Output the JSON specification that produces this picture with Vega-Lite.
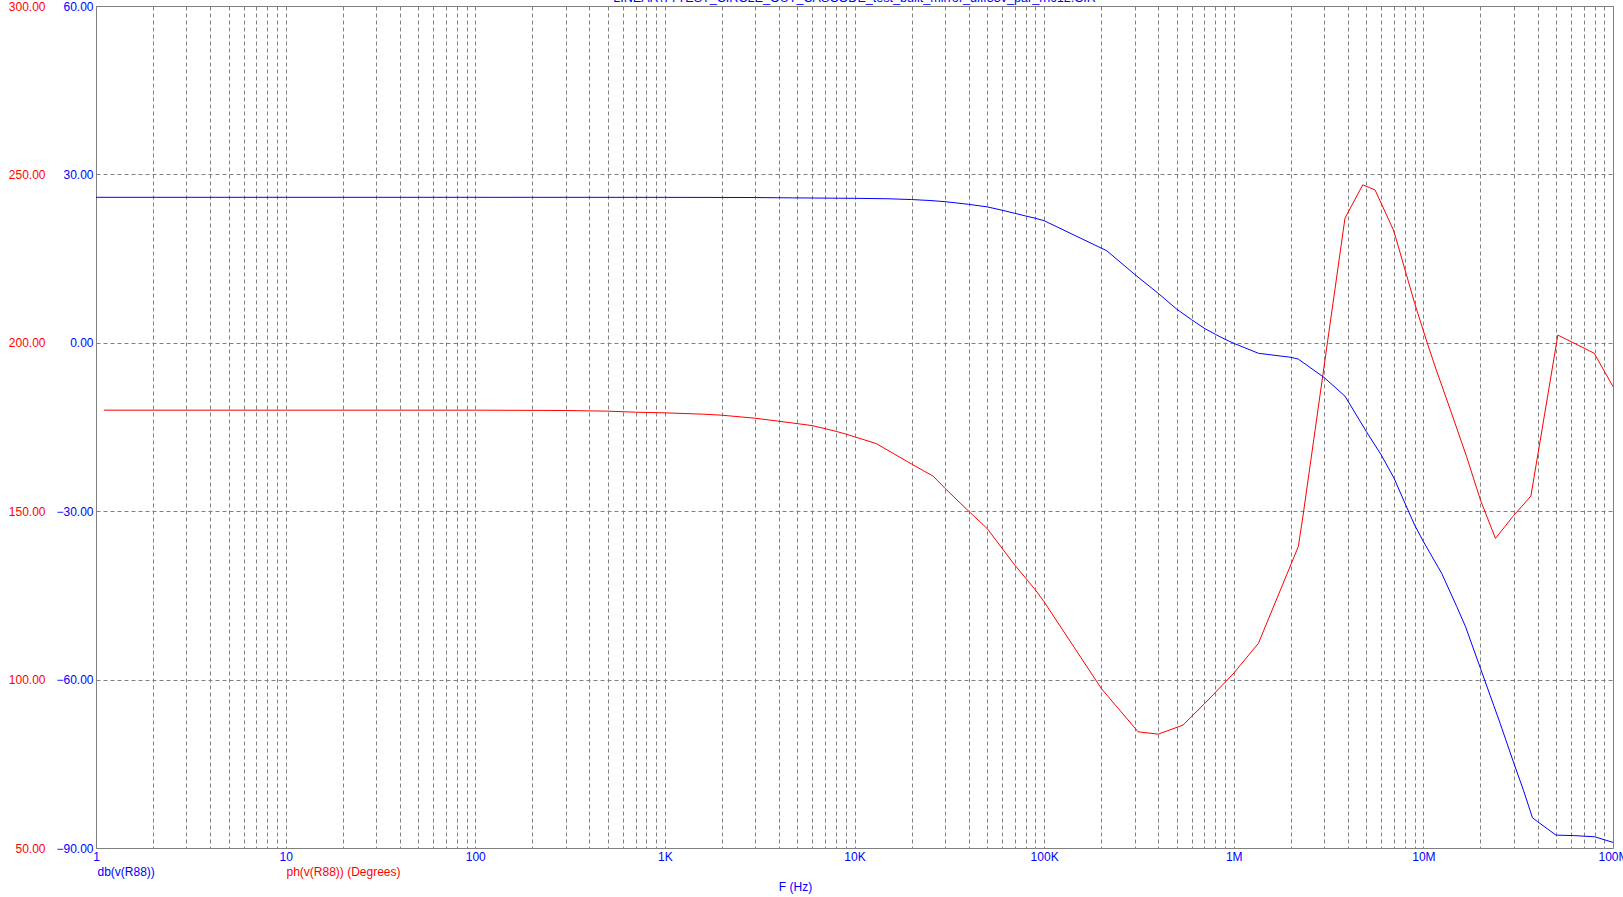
{
  "$schema": "https://vega.github.io/schema/vega-lite/v6.json",
  "width": 1517,
  "height": 842,
  "autosize": {"type": "none"},
  "padding": {"left": 96, "top": 6, "right": 10, "bottom": 49},
  "background": "white",
  "config": {
    "font": "Liberation Sans",
    "view": {"stroke": "#808080", "strokeWidth": 1}
  },
  "title": {
    "text": "LINEAR\\TTTEST_CIRCLE_OUT_CASCODE_test_built_mirror_diff33v_par_rnc12.CIR",
    "anchor": "middle",
    "frame": "group",
    "offset": -15,
    "baseline": "alphabetic",
    "font": "Liberation Sans",
    "fontSize": 12.6,
    "fontWeight": "normal",
    "color": "#0000FF"
  },
  "datasets": {
    "db": [
      {"f": 1, "db": 25.92}, {"f": 10, "db": 25.92}, {"f": 100, "db": 25.92}, {"f": 1000, "db": 25.91},
      {"f": 3000, "db": 25.88}, {"f": 4700, "db": 25.82}, {"f": 10000, "db": 25.74}, {"f": 15000, "db": 25.66},
      {"f": 20000, "db": 25.52}, {"f": 25000, "db": 25.35}, {"f": 30000, "db": 25.14}, {"f": 40000, "db": 24.67},
      {"f": 50000, "db": 24.22}, {"f": 60000, "db": 23.62}, {"f": 70000, "db": 23.07}, {"f": 80000, "db": 22.59},
      {"f": 90000, "db": 22.18}, {"f": 100000, "db": 21.75}, {"f": 214000, "db": 16.4}, {"f": 300000, "db": 12.2},
      {"f": 400000, "db": 8.8}, {"f": 500000, "db": 6.0}, {"f": 600000, "db": 4.1}, {"f": 700000, "db": 2.58},
      {"f": 800000, "db": 1.51}, {"f": 900000, "db": 0.62}, {"f": 1000000, "db": -0.09}, {"f": 1350000, "db": -1.87},
      {"f": 2000000, "db": -2.58}, {"f": 2190000, "db": -2.9}, {"f": 3000000, "db": -6.2}, {"f": 3860000, "db": -9.5},
      {"f": 5000000, "db": -15.8}, {"f": 6000000, "db": -20.0}, {"f": 7000000, "db": -24.1}, {"f": 8000000, "db": -28.6},
      {"f": 9000000, "db": -32.5}, {"f": 10000000, "db": -35.4}, {"f": 12500000, "db": -41.1}, {"f": 15000000, "db": -47.0},
      {"f": 16700000, "db": -50.6}, {"f": 20000000, "db": -58.0}, {"f": 25400000, "db": -67.8}, {"f": 30000000, "db": -74.9},
      {"f": 33700000, "db": -79.7}, {"f": 37600000, "db": -84.6}, {"f": 40000000, "db": -85.3}, {"f": 50000000, "db": -87.7},
      {"f": 63000000, "db": -87.8}, {"f": 80000000, "db": -88.0}, {"f": 100000000, "db": -89.0}
    ],
    "ph": [
      {"f": 1.1, "phase": 180.0}, {"f": 10, "phase": 180.0}, {"f": 100, "phase": 180.0}, {"f": 300, "phase": 179.9},
      {"f": 500, "phase": 179.7}, {"f": 700, "phase": 179.4}, {"f": 1000, "phase": 179.2}, {"f": 1600, "phase": 178.8},
      {"f": 2000, "phase": 178.5}, {"f": 3000, "phase": 177.6}, {"f": 4000, "phase": 176.7}, {"f": 5000, "phase": 176.0},
      {"f": 6000, "phase": 175.4}, {"f": 7000, "phase": 174.5}, {"f": 8000, "phase": 173.7}, {"f": 9000, "phase": 172.9},
      {"f": 10000, "phase": 172.1}, {"f": 13000, "phase": 170.1}, {"f": 20000, "phase": 164.0}, {"f": 26000, "phase": 160.4},
      {"f": 30000, "phase": 156.8}, {"f": 40000, "phase": 150.0}, {"f": 50000, "phase": 144.9}, {"f": 60000, "phase": 139.0},
      {"f": 70000, "phase": 134.0}, {"f": 80000, "phase": 130.1}, {"f": 90000, "phase": 126.6}, {"f": 100000, "phase": 123.1},
      {"f": 200000, "phase": 97.4}, {"f": 313000, "phase": 84.5}, {"f": 400000, "phase": 83.8}, {"f": 540000, "phase": 86.5},
      {"f": 700000, "phase": 92.8}, {"f": 1000000, "phase": 101.9}, {"f": 1350000, "phase": 110.8}, {"f": 2190000, "phase": 139.5},
      {"f": 2310000, "phase": 148.0}, {"f": 3860000, "phase": 237.0}, {"f": 4790000, "phase": 246.9}, {"f": 5560000, "phase": 245.4},
      {"f": 6950000, "phase": 233.5}, {"f": 7170000, "phase": 231.0}, {"f": 9000000, "phase": 211.7}, {"f": 10500000, "phase": 199.8},
      {"f": 11700000, "phase": 191.9}, {"f": 13900000, "phase": 180.0}, {"f": 16900000, "phase": 166.2}, {"f": 20000000, "phase": 153.3},
      {"f": 24000000, "phase": 141.9}, {"f": 29600000, "phase": 148.4}, {"f": 36900000, "phase": 154.5}, {"f": 51200000, "phase": 202.3},
      {"f": 79600000, "phase": 196.9}, {"f": 100000000, "phase": 187.0}
    ]
  },
  "encoding": {
    "x": {
      "field": "f",
      "type": "quantitative",
      "scale": {"type": "log", "domain": [1, 100000000], "nice": false},
      "axis": {
        "values": [1,2,3,4,5,6,7,8,9,10,20,30,40,50,60,70,80,90,100,200,300,400,500,600,700,800,900,1000,2000,3000,4000,5000,6000,7000,8000,9000,10000,20000,30000,40000,50000,60000,70000,80000,90000,100000,200000,300000,400000,500000,600000,700000,800000,900000,1000000,2000000,3000000,4000000,5000000,6000000,7000000,8000000,9000000,10000000,20000000,30000000,40000000,50000000,60000000,70000000,80000000,90000000,100000000],
        "labelExpr": "datum.value==1?'1':datum.value==10?'10':datum.value==100?'100':datum.value==1000?'1K':datum.value==10000?'10K':datum.value==100000?'100K':datum.value==1000000?'1M':datum.value==10000000?'10M':datum.value==100000000?'100M':''",
        "domain": false,
        "ticks": false,
        "grid": true,
        "gridColor": "#808080",
        "gridDash": [4, 3],
        "gridWidth": 1,
        "gridOpacity": 1,
        "labelColor": "#0000FF",
        "labelFont": "Liberation Sans",
        "labelFontSize": 12,
        "labelPadding": 3,
        "labelOverlap": false,
        "labelFlush": false,
        "labelBound": false,
        "labelAlign": "center",
        "title": "F (Hz)",
        "titleColor": "#0000FF",
        "titleFont": "Liberation Sans",
        "titleFontSize": 12,
        "titleFontWeight": "normal",
        "titleAlign": "center",
        "titleBaseline": "alphabetic",
        "titleX": 699,
        "titleY": 42
      }
    }
  },
  "layer": [
    {
      "data": {"name": "ph"},
      "mark": {"type": "line", "color": "#FF0000", "strokeWidth": 1},
      "encoding": {
        "y": {
          "field": "phase",
          "type": "quantitative",
          "scale": {"domain": [50, 300], "nice": false, "zero": false},
          "axis": {
            "orient": "left",
            "offset": 48,
            "values": [50, 100, 150, 200, 250, 300],
            "format": ".2f",
            "domain": false,
            "ticks": false,
            "grid": false,
            "labelColor": "#FF0000",
            "labelFont": "Liberation Sans",
            "labelFontSize": 12,
            "labelPadding": 3,
            "labelOverlap": false,
            "labelFlush": false,
            "labelBound": false,
            "title": "ph(v(R88)) (Degrees)",
            "titleColor": "#FF0000",
            "titleFont": "Liberation Sans",
            "titleFontSize": 12,
            "titleFontWeight": "normal",
            "titleAngle": 0,
            "titleAlign": "left",
            "titleBaseline": "alphabetic",
            "titleX": 238,
            "titleY": 869
          }
        }
      }
    },
    {
      "data": {"name": "db"},
      "mark": {"type": "line", "color": "#0000FF", "strokeWidth": 1},
      "encoding": {
        "y": {
          "field": "db",
          "type": "quantitative",
          "scale": {"domain": [-90, 60], "nice": false, "zero": false},
          "axis": {
            "orient": "left",
            "values": [-90, -60, -30, 0, 30, 60],
            "format": ".2f",
            "domain": false,
            "ticks": false,
            "grid": true,
            "gridColor": "#808080",
            "gridDash": [4, 3],
            "gridWidth": 1,
            "gridOpacity": 1,
            "labelColor": "#0000FF",
            "labelFont": "Liberation Sans",
            "labelFontSize": 12,
            "labelPadding": 3,
            "labelOverlap": false,
            "labelFlush": false,
            "labelBound": false,
            "title": "db(v(R88))",
            "titleColor": "#0000FF",
            "titleFont": "Liberation Sans",
            "titleFontSize": 12,
            "titleFontWeight": "normal",
            "titleAngle": 0,
            "titleAlign": "left",
            "titleBaseline": "alphabetic",
            "titleX": 1,
            "titleY": 869
          }
        }
      }
    }
  ],
  "resolve": {"scale": {"y": "independent"}}
}
